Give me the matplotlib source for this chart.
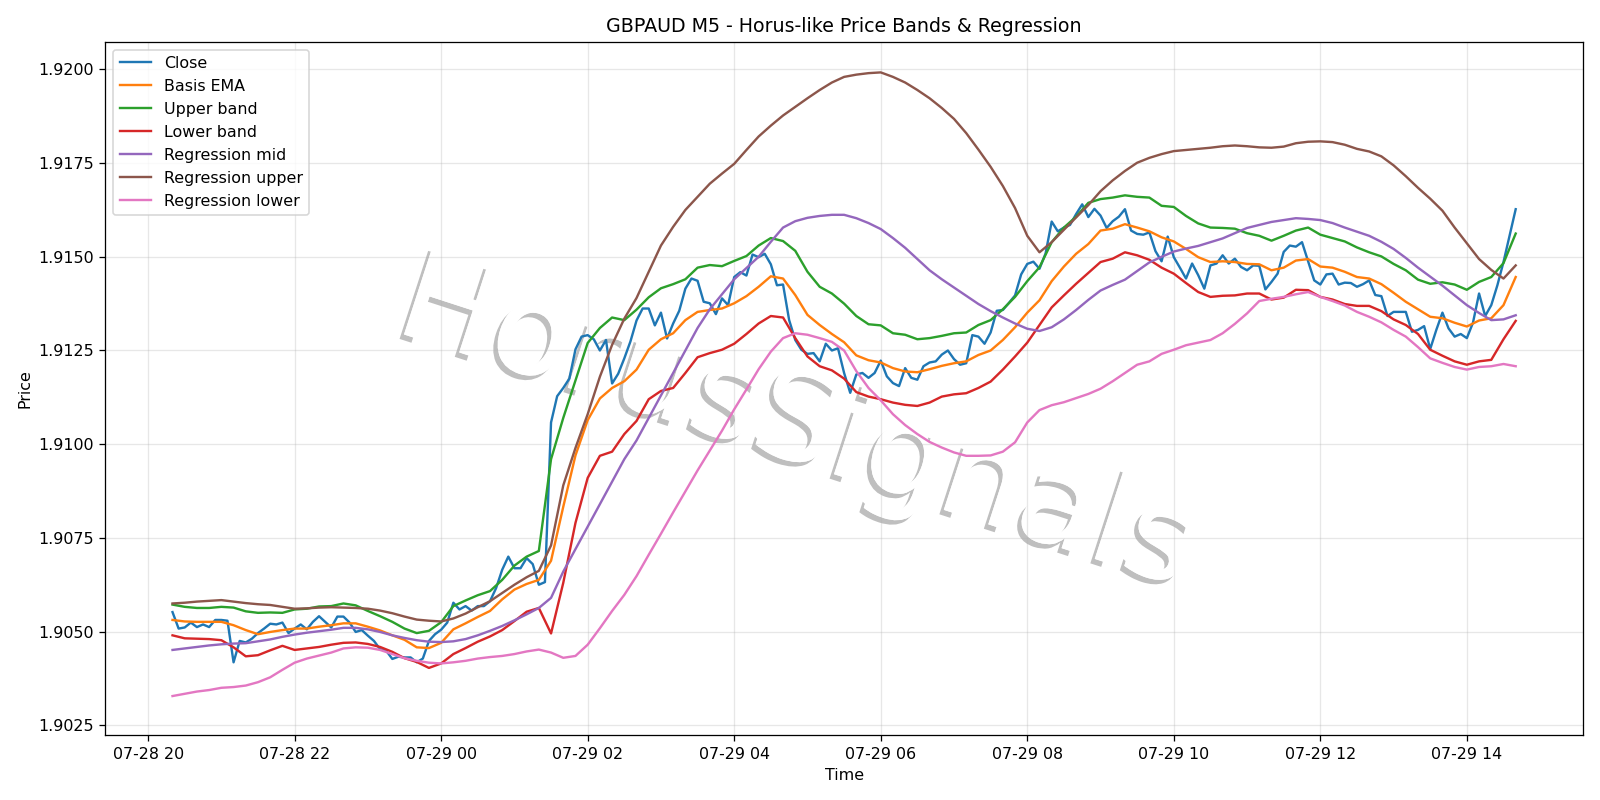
import pandas as pd
import matplotlib
matplotlib.use("Agg")
import matplotlib.pyplot as plt
import matplotlib.patheffects as pe

# GBPAUD M5 closes, 07-28 20:20 .. 07-29 14:40 (one row = one hour)
close = [
    1.90552, 1.90508, 1.90511, 1.90524, 1.90512, 1.90519, 1.90512, 1.90531, 1.90531, 1.90529, 1.90418, 1.90475,
    1.90471, 1.90481, 1.90496, 1.90508, 1.90521, 1.90519, 1.90524, 1.90496, 1.90508, 1.90519, 1.90506, 1.90526,
    1.90541, 1.90526, 1.90511, 1.90540, 1.90540, 1.90524, 1.90499, 1.90504, 1.90489, 1.90475, 1.90453, 1.90449,
    1.90427, 1.90433, 1.90431, 1.90431, 1.90418, 1.90428, 1.90475, 1.90493, 1.90505, 1.90524, 1.90577, 1.90559,
    1.90568, 1.90556, 1.90568, 1.90568, 1.90581, 1.90616, 1.90665, 1.90700, 1.90669, 1.90669, 1.90696, 1.90680,
    1.90625, 1.90632, 1.91058, 1.91128, 1.91150, 1.91175, 1.91253, 1.91287, 1.91291, 1.91280, 1.91250, 1.91278,
    1.91162, 1.91188, 1.91229, 1.91274, 1.91330, 1.91362, 1.91362, 1.91317, 1.91351, 1.91282, 1.91322, 1.91356,
    1.91415, 1.91442, 1.91436, 1.91380, 1.91376, 1.91347, 1.91389, 1.91371, 1.91446, 1.91459, 1.91450, 1.91506,
    1.91499, 1.91508, 1.91480, 1.91424, 1.91426, 1.91331, 1.91278, 1.91252, 1.91241, 1.91243, 1.91221, 1.91268,
    1.91250, 1.91256, 1.91190, 1.91137, 1.91186, 1.91190, 1.91177, 1.91190, 1.91223, 1.91181, 1.91163, 1.91155,
    1.91203, 1.91177, 1.91172, 1.91208, 1.91218, 1.91221, 1.91239, 1.91250, 1.91227, 1.91212, 1.91216, 1.91291,
    1.91287, 1.91268, 1.91298, 1.91356, 1.91358, 1.91377, 1.91397, 1.91453, 1.91481, 1.91487, 1.91468, 1.91509,
    1.91594, 1.91568, 1.91578, 1.91585, 1.91614, 1.91640, 1.91606, 1.91628, 1.91610, 1.91577, 1.91595, 1.91607,
    1.91627, 1.91570, 1.91561, 1.91559, 1.91565, 1.91515, 1.91488, 1.91554, 1.91499, 1.91471, 1.91442, 1.91482,
    1.91451, 1.91415, 1.91477, 1.91482, 1.91504, 1.91482, 1.91495, 1.91473, 1.91464, 1.91477, 1.91476, 1.91413,
    1.91433, 1.91455, 1.91513, 1.91530, 1.91527, 1.91539, 1.91488, 1.91437, 1.91426, 1.91453, 1.91455, 1.91426,
    1.91431, 1.91430, 1.91420, 1.91427, 1.91437, 1.91398, 1.91395, 1.91342, 1.91353, 1.91353, 1.91353, 1.91300,
    1.91305, 1.91315, 1.91254, 1.91305, 1.91351, 1.91309, 1.91287, 1.91294, 1.91283, 1.91324, 1.91402, 1.91342,
    1.91371, 1.91424, 1.91486, 1.91556, 1.91627,
]

# the band / regression lines, read every 10 minutes (one row = one hour)
basis = [
    1.90531, 1.90527, 1.90526, 1.90526, 1.90526, 1.90517,
    1.90504, 1.90493, 1.90499, 1.90504, 1.90508, 1.90508,
    1.90513, 1.90517, 1.90522, 1.90522, 1.90513, 1.90503,
    1.90490, 1.90478, 1.90458, 1.90456, 1.90470, 1.90506,
    1.90522, 1.90539, 1.90555, 1.90586, 1.90612, 1.90627,
    1.90638, 1.90689, 1.90833, 1.90970, 1.91064, 1.91122,
    1.91150, 1.91168, 1.91199, 1.91252, 1.91280, 1.91296,
    1.91331, 1.91353, 1.91358, 1.91362, 1.91376, 1.91395,
    1.91420, 1.91448, 1.91442, 1.91398, 1.91345, 1.91318,
    1.91294, 1.91272, 1.91237, 1.91224, 1.91218, 1.91203,
    1.91194, 1.91192, 1.91200, 1.91209, 1.91216, 1.91221,
    1.91238, 1.91250, 1.91278, 1.91312, 1.91351, 1.91384,
    1.91435, 1.91474, 1.91508, 1.91534, 1.91570, 1.91575,
    1.91587, 1.91578, 1.91568, 1.91552, 1.91541, 1.91521,
    1.91499, 1.91486, 1.91488, 1.91486, 1.91481, 1.91480,
    1.91464, 1.91471, 1.91490, 1.91494, 1.91474, 1.91471,
    1.91460, 1.91446, 1.91442, 1.91427, 1.91404, 1.91380,
    1.91360, 1.91340, 1.91336, 1.91324, 1.91314, 1.91330,
    1.91336, 1.91371, 1.91446,
]

upper = [
    1.90572, 1.90566, 1.90563, 1.90563, 1.90566, 1.90564,
    1.90554, 1.90550, 1.90551, 1.90550, 1.90559, 1.90561,
    1.90567, 1.90568, 1.90575, 1.90570, 1.90555, 1.90541,
    1.90526, 1.90508, 1.90496, 1.90502, 1.90525, 1.90568,
    1.90583, 1.90597, 1.90608, 1.90638, 1.90676, 1.90700,
    1.90715, 1.90960, 1.91070, 1.91170, 1.91270, 1.91310,
    1.91338, 1.91331, 1.91359, 1.91392, 1.91416, 1.91427,
    1.91440, 1.91471, 1.91478, 1.91475, 1.91489, 1.91502,
    1.91530, 1.91550, 1.91542, 1.91516, 1.91460, 1.91420,
    1.91402, 1.91375, 1.91342, 1.91320, 1.91317, 1.91296,
    1.91292, 1.91280, 1.91283, 1.91289, 1.91296, 1.91298,
    1.91318, 1.91331, 1.91360, 1.91393, 1.91435, 1.91472,
    1.91539, 1.91578, 1.91607, 1.91644, 1.91654, 1.91658,
    1.91664, 1.91660, 1.91658, 1.91636, 1.91633, 1.91609,
    1.91589, 1.91578, 1.91577, 1.91575, 1.91563, 1.91556,
    1.91543, 1.91556, 1.91570, 1.91578, 1.91559, 1.91550,
    1.91541, 1.91525, 1.91512, 1.91501, 1.91481, 1.91464,
    1.91439, 1.91428, 1.91432, 1.91426, 1.91412, 1.91433,
    1.91446, 1.91483, 1.91562,
]

lower = [
    1.90490, 1.90482, 1.90481, 1.90480, 1.90477, 1.90458,
    1.90434, 1.90437, 1.90450, 1.90462, 1.90451, 1.90455,
    1.90459, 1.90465, 1.90470, 1.90471, 1.90467, 1.90459,
    1.90446, 1.90429, 1.90419, 1.90403, 1.90415, 1.90440,
    1.90456, 1.90473, 1.90487, 1.90504, 1.90528, 1.90553,
    1.90563, 1.90495, 1.90630, 1.90790, 1.90910, 1.90969,
    1.90980, 1.91027, 1.91062, 1.91120, 1.91142, 1.91150,
    1.91190, 1.91232, 1.91243, 1.91252, 1.91268, 1.91294,
    1.91322, 1.91342, 1.91338, 1.91283, 1.91234, 1.91208,
    1.91197, 1.91175, 1.91139, 1.91127, 1.91120, 1.91111,
    1.91105, 1.91102, 1.91111, 1.91127, 1.91133, 1.91136,
    1.91150, 1.91167, 1.91199, 1.91234, 1.91271, 1.91318,
    1.91365, 1.91397, 1.91428, 1.91457, 1.91486, 1.91495,
    1.91512, 1.91504, 1.91492, 1.91471, 1.91455, 1.91430,
    1.91406, 1.91393, 1.91396, 1.91397, 1.91402, 1.91402,
    1.91386, 1.91391, 1.91412, 1.91411, 1.91393, 1.91386,
    1.91374, 1.91369, 1.91369, 1.91355, 1.91333, 1.91318,
    1.91294, 1.91252, 1.91236, 1.91221, 1.91212, 1.91221,
    1.91225, 1.91280, 1.91329,
]

reg_mid = [
    1.90451, 1.90455, 1.90459, 1.90463, 1.90466, 1.90468,
    1.90469, 1.90474, 1.90479, 1.90486, 1.90492, 1.90497,
    1.90501, 1.90505, 1.90510, 1.90510, 1.90506, 1.90499,
    1.90490, 1.90483, 1.90477, 1.90473, 1.90472, 1.90474,
    1.90480, 1.90490, 1.90502, 1.90515, 1.90530, 1.90546,
    1.90563, 1.90590, 1.90660, 1.90720, 1.90780, 1.90840,
    1.90900, 1.90960, 1.91010, 1.91070, 1.91130, 1.91190,
    1.91250, 1.91310, 1.91360, 1.91400, 1.91440, 1.91470,
    1.91500, 1.91540, 1.91578, 1.91595, 1.91604, 1.91609,
    1.91612, 1.91612, 1.91603, 1.91590, 1.91574, 1.91550,
    1.91524, 1.91494, 1.91464, 1.91440, 1.91418, 1.91396,
    1.91374, 1.91355, 1.91338, 1.91322, 1.91308, 1.91302,
    1.91312, 1.91333, 1.91358, 1.91385, 1.91410, 1.91425,
    1.91439, 1.91462, 1.91485, 1.91500, 1.91514, 1.91522,
    1.91529, 1.91539, 1.91549, 1.91563, 1.91577, 1.91585,
    1.91593, 1.91598, 1.91603, 1.91601, 1.91598, 1.91590,
    1.91578, 1.91567, 1.91556, 1.91540, 1.91521, 1.91497,
    1.91471, 1.91447, 1.91423, 1.91397, 1.91371, 1.91350,
    1.91331, 1.91333, 1.91344,
]

reg_upper = [
    1.90575, 1.90577, 1.90580, 1.90582, 1.90584, 1.90580,
    1.90576, 1.90573, 1.90571, 1.90566, 1.90561, 1.90562,
    1.90564, 1.90565, 1.90564, 1.90563, 1.90561, 1.90556,
    1.90549, 1.90540, 1.90532, 1.90529, 1.90527, 1.90535,
    1.90548, 1.90565, 1.90581, 1.90603, 1.90625, 1.90645,
    1.90662, 1.90730, 1.90890, 1.90990, 1.91080, 1.91180,
    1.91265, 1.91335, 1.91390, 1.91460, 1.91530, 1.91580,
    1.91625, 1.91660, 1.91695, 1.91722, 1.91748, 1.91785,
    1.91821, 1.91850, 1.91877, 1.91900, 1.91923, 1.91945,
    1.91965, 1.91980, 1.91986, 1.91990, 1.91992, 1.91980,
    1.91965, 1.91945, 1.91923, 1.91897, 1.91868, 1.91830,
    1.91786, 1.91740, 1.91689, 1.91630, 1.91556, 1.91512,
    1.91539, 1.91572, 1.91605, 1.91638, 1.91675, 1.91704,
    1.91729, 1.91751, 1.91764, 1.91774, 1.91782, 1.91785,
    1.91788, 1.91791, 1.91795, 1.91797, 1.91795, 1.91792,
    1.91791, 1.91794, 1.91803, 1.91807, 1.91808, 1.91806,
    1.91799, 1.91788, 1.91781, 1.91768, 1.91744, 1.91715,
    1.91684, 1.91655, 1.91623, 1.91578, 1.91536, 1.91494,
    1.91465, 1.91442, 1.91477,
]

reg_lower = [
    1.90328, 1.90334, 1.90340, 1.90344, 1.90350, 1.90352,
    1.90356, 1.90365, 1.90378, 1.90398, 1.90417, 1.90428,
    1.90436, 1.90444, 1.90455, 1.90458, 1.90457, 1.90451,
    1.90440, 1.90429, 1.90422, 1.90417, 1.90415, 1.90418,
    1.90422, 1.90428, 1.90432, 1.90435, 1.90440, 1.90447,
    1.90452, 1.90444, 1.90430, 1.90435, 1.90465, 1.90509,
    1.90555, 1.90598, 1.90648, 1.90705, 1.90761, 1.90818,
    1.90874, 1.90930, 1.90983, 1.91036, 1.91093, 1.91146,
    1.91200, 1.91247, 1.91283, 1.91296, 1.91292, 1.91283,
    1.91273, 1.91250, 1.91195, 1.91150, 1.91117, 1.91080,
    1.91051, 1.91027, 1.91006, 1.90991, 1.90978, 1.90969,
    1.90969, 1.90970, 1.90980, 1.91005, 1.91058, 1.91091,
    1.91104, 1.91112, 1.91123, 1.91134, 1.91148, 1.91168,
    1.91190, 1.91212, 1.91221, 1.91241, 1.91252, 1.91264,
    1.91271, 1.91278, 1.91296, 1.91321, 1.91349, 1.91382,
    1.91388, 1.91393, 1.91400, 1.91406, 1.91393, 1.91382,
    1.91370, 1.91353, 1.91340, 1.91325, 1.91305, 1.91287,
    1.91259, 1.91229, 1.91217, 1.91206, 1.91199, 1.91206,
    1.91208, 1.91214, 1.91208,
]

t_close = pd.date_range('2025-07-28 20:20', '2025-07-29 14:40', freq='5min')
t_lines = pd.date_range('2025-07-28 20:20', '2025-07-29 14:40', freq='10min')

fig, ax = plt.subplots(figsize=(14, 7), dpi=1600 / 14)

ax.plot(t_close, close, label='Close')
ax.plot(t_lines, basis, label='Basis EMA')
ax.plot(t_lines, upper, label='Upper band')
ax.plot(t_lines, lower, label='Lower band')
ax.plot(t_lines, reg_mid, label='Regression mid')
ax.plot(t_lines, reg_upper, label='Regression upper')
ax.plot(t_lines, reg_lower, label='Regression lower')

# watermark
ax.text(0.468, 0.447, 'HorusSignals', transform=ax.transAxes,
        fontsize=80, rotation=-18, ha='center', va='center', color='white', zorder=1,
        path_effects=[pe.withSimplePatchShadow(offset=(-2.8, -2.8), shadow_rgbFace='black', alpha=0.25),
                      pe.Normal()])

ax.set_ylim(1.90223, 1.92074)
ax.set_title('GBPAUD M5 - Horus-like Price Bands & Regression')
ax.set_xlabel('Time')
ax.set_ylabel('Price')
ax.grid(True, alpha=0.3)
ax.legend(loc='upper left')

plt.tight_layout()
plt.savefig('out.png')
